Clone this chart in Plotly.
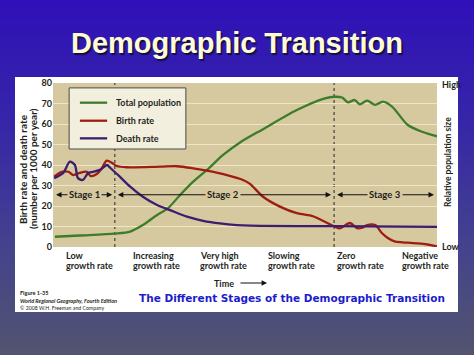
import base64
import plotly.graph_objects as go

# ---------------- data (time on a 0-100 scale) ----------------
time_total = [0.5, 7.0, 16.1, 20.1, 23.4, 27.1, 29.9, 33.1, 36.5, 40.1, 44.3, 48.7,
              54.7, 63.5, 70.8, 73.4, 75.3, 76.8, 78.6, 79.9, 81.8, 83.9, 85.9, 88.3,
              92.4, 96.1, 100.0]
total_population = [5.0, 5.6, 6.5, 7.5, 10.7, 15.6, 18.8, 25.4, 31.9, 37.6, 44.9, 51.0,
                    57.5, 66.8, 72.5, 73.3, 72.9, 70.6, 71.7, 69.6, 71.4, 69.3, 70.9, 68.5,
                    59.5, 56.2, 54.0]

time_birth = [0.3, 2.3, 4.0, 5.3, 7.0, 8.8, 9.8, 11.4, 12.7, 14.0, 15.3, 16.6, 19.2,
              27.9, 32.3, 36.5, 40.1, 45.3, 49.5, 51.3, 54.7, 59.1, 63.5, 67.7, 70.3,
              73.4, 74.7, 77.3, 79.2, 80.5, 81.8, 83.9, 85.7, 87.2, 89.1, 91.1, 96.4, 100.0]
birth_rate = [34.3, 36.7, 36.7, 35.1, 36.2, 36.7, 34.6, 35.6, 38.4, 42.1, 41.1, 39.5, 38.9,
              39.2, 39.4, 38.4, 37.2, 35.1, 32.7, 30.8, 24.5, 19.7, 16.5, 15.0, 12.8,
              9.9, 9.1, 11.7, 9.2, 9.4, 10.7, 10.7, 6.7, 4.4, 2.6, 2.3, 1.5, 0.3]

time_death = [0.3, 2.6, 4.4, 5.7, 6.5, 7.8, 9.1, 10.4, 12.2, 14.1, 14.8, 17.4, 20.1,
              23.4, 27.1, 30.5, 34.9, 39.1, 43.5, 47.9, 51.3, 64.3, 73.2, 100.0]
death_rate = [33.6, 36.0, 41.6, 40.0, 33.6, 32.7, 36.0, 36.7, 37.6, 40.0, 38.8, 34.3, 29.4,
              24.5, 20.5, 18.0, 14.8, 12.8, 11.5, 10.7, 10.4, 10.2, 10.2, 9.8]

y_ticks = [0, 10, 20, 30, 40, 50, 60, 70, 80]
stage_names = ["Stage 1", "Stage 2", "Stage 3"]
stage_spans = [(0.8, 15.4), (16.9, 72.4), (74.0, 99.2)]
stage_label_x = [8.3, 44.3, 86.5]
stage_level = 25.5
stage_boundaries = [16.1, 73.2]
growth_first = ["Low", "Increasing", "Very high", "Slowing", "Zero", "Negative"]
growth_second = ["growth rate"] * 6
growth_x = [2.9, 20.3, 37.8, 55.4, 73.4, 90.4]
series_names = ["Total population", "Birth rate", "Death rate"]
series_colors = ["#3c7d2c", "#9e1c10", "#3c1e6e"]

# ---------------- layout helpers ----------------
W, H = 474, 355
L, R, T, B = 53, 37, 83, 108
PW, PH = W - L - R, H - T - B


def X(px):
    return (px - L) / PW


def Y(py):
    return (H - B - py) / PH


TAN = "#d6c99f"
DARK = "#231f20"
FONT = "Lato"

fig = go.Figure()
for t, v, name, col in zip([time_total, time_birth, time_death],
                           [total_population, birth_rate, death_rate],
                           series_names, series_colors):
    fig.add_trace(go.Scatter(x=t, y=v, name=name, mode="lines",
                             line=dict(color=col, width=2.3, shape="spline", smoothing=0.8),
                             showlegend=False, hoverinfo="skip"))

svg = ('<svg xmlns="http://www.w3.org/2000/svg" width="474" height="355">'
       '<defs><linearGradient id="g" x1="0" y1="0" x2="0" y2="1">'
       '<stop offset="0" stop-color="#2f10b8"/><stop offset="0.35" stop-color="#3626a8"/>'
       '<stop offset="0.7" stop-color="#45438c"/><stop offset="1" stop-color="#52546f"/>'
       '</linearGradient></defs><rect width="474" height="355" fill="url(#g)"/></svg>')
uri = "data:image/svg+xml;base64," + base64.b64encode(svg.encode()).decode()

shapes = [
    dict(type="rect", xref="paper", yref="paper", x0=X(15), x1=X(458), y0=Y(312), y1=Y(77),
         fillcolor="white", line=dict(width=0), layer="below"),
    dict(type="rect", xref="paper", yref="paper", x0=0, x1=1, y0=0, y1=1,
         fillcolor=TAN, line=dict(width=0), layer="below"),
]
for b in stage_boundaries:
    shapes.append(dict(type="line", xref="x", yref="y", x0=b, x1=b, y0=0, y1=80,
                       line=dict(color="#333", width=1.1, dash="dot"), layer="below"))
# legend box
shapes.append(dict(type="rect", xref="x", yref="y", x0=4.2, x1=34.6, y0=47.8, y1=77.6,
                   fillcolor="#f3efdf", line=dict(color="#4a4a4a", width=1), layer="above"))
legend_y = [70.4, 61.6, 53.0]
for ly, col in zip(legend_y, series_colors):
    shapes.append(dict(type="line", xref="x", yref="y", x0=7.0, x1=14.1, y0=ly, y1=ly,
                       line=dict(color=col, width=2.3), layer="above"))

ann = []


def txt(text, px, py, size, color=DARK, family=FONT, xanchor="center", angle=0, **fontx):
    ann.append(dict(text=text, xref="paper", yref="paper", x=X(px), y=Y(py),
                    xanchor=xanchor, yanchor="middle", textangle=angle, showarrow=False,
                    font=dict(family=family, size=size, color=color, **fontx)))


# title with shadow
txt("<b>Demographic Transition</b>", 237, 43, 29, "#fffbd6", "Liberation Sans",
    shadow="1.5px 1.5px 1px #101040")
# legend text
for ly, name in zip(legend_y, series_names):
    ann.append(dict(text="<b>" + name + "</b>", xref="x", yref="y", x=15.9, y=ly,
                    xanchor="left", yanchor="middle", showarrow=False,
                    font=dict(family=FONT, size=9, color=DARK)))
# stage arrows
for (a, b), lx, nm in zip(stage_spans, stage_label_x, stage_names):
    for end in (a, b):
        ann.append(dict(text="", x=end, y=stage_level, ax=lx, ay=stage_level,
                        xref="x", yref="y", axref="x", ayref="y", showarrow=True,
                        arrowhead=2, arrowsize=0.9, arrowwidth=1.2, arrowcolor="#111"))
    ann.append(dict(text="<b>" + nm + "</b>", x=lx, y=stage_level, xref="x", yref="y",
                    xanchor="center", yanchor="middle",
                    showarrow=False, bgcolor=TAN, borderpad=1,
                    font=dict(family=FONT, size=9.5, color=DARK)))
# growth labels
for gx, f1, f2 in zip(growth_x, growth_first, growth_second):
    for lab, py in ((f1, 255), (f2, 265.5)):
        ann.append(dict(text="<b>" + lab + "</b>", xref="x", yref="paper", x=gx, y=Y(py),
                        xanchor="left", yanchor="middle", showarrow=False,
                        font=dict(family=FONT, size=9, color=DARK)))
# time arrow
txt("<b>Time</b>", 224, 283, 9)
ann.append(dict(text="", xref="paper", yref="paper", x=X(267), y=Y(283), ax=-28, ay=0,
                showarrow=True, arrowhead=2, arrowsize=0.9, arrowwidth=1.2, arrowcolor="#111"))
# left axis title
txt("<b>Birth rate and death rate</b>", 23, 169, 10, angle=-90)
txt("<b>(number per 1000 per year)</b>", 33, 169, 10, angle=-90)
# right axis
txt("<b>High</b>", 440, 84, 9, xanchor="left")
txt("<b>Low</b>", 440, 246, 9, xanchor="left")
txt("<b>Relative population size</b>", 448, 162, 8.5, angle=-90)
# footer
txt("<b>Figure 1-35</b>", 18, 292.5, 5.5, xanchor="left")
txt("<b><i>World Regional Geography, Fourth Edition</i></b>", 18, 300.5, 5.5, xanchor="left")
txt("© 2008 W.H. Freeman and Company", 18, 308, 5.2, xanchor="left")
txt("<b>The Different Stages of the Demographic Transition</b>", 292, 298, 10.5,
    "#1c1ccc", "DejaVu Sans")

fig.update_layout(
    width=W, height=H, margin=dict(l=L, r=R, t=T, b=B),
    paper_bgcolor="#52546f", plot_bgcolor="rgba(0,0,0,0)",
    images=[dict(source=uri, xref="paper", yref="paper", x=X(0), y=Y(0),
                 sizex=W / PW, sizey=H / PH, sizing="stretch", layer="below",
                 xanchor="left", yanchor="top")],
    shapes=shapes, annotations=ann,
    xaxis=dict(range=[0, 100], showgrid=False, zeroline=False, showticklabels=False,
               showline=False, ticks=""),
    yaxis=dict(range=[0, 80], tickvals=y_ticks, showgrid=True, gridcolor="#efe6c4",
               gridwidth=1, zeroline=False, showline=False, ticks="",
               tickfont=dict(family=FONT, size=9, color=DARK, weight="bold")),
    showlegend=False,
)
fig.write_html("out.html", config={"displayModeBar": False},
               post_script="document.body.style.margin='0';")
